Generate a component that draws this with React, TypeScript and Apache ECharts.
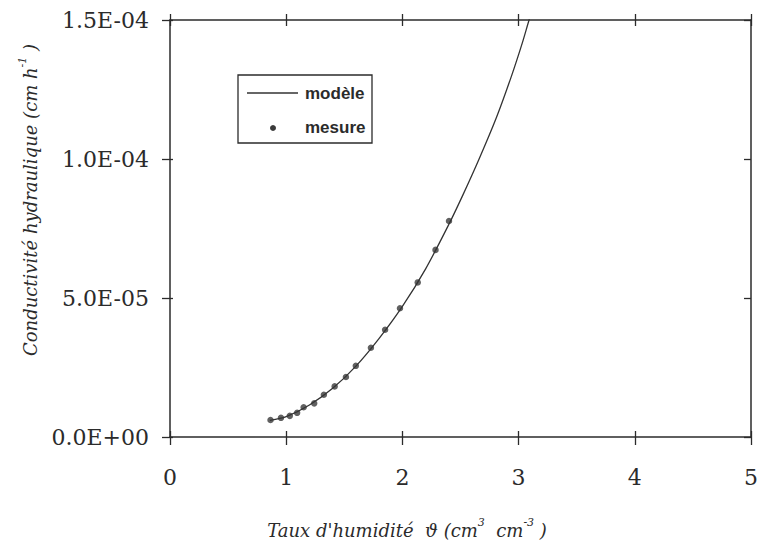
import React, { useEffect, useRef } from "react";
import * as echarts from "echarts";

// Measured points (x: cm3/cm3, y: cm/h)
const mesureX = [0.865, 0.955, 1.031, 1.094, 1.15, 1.241, 1.324, 1.417, 1.514, 1.599, 1.729, 1.851, 1.979, 2.132, 2.285, 2.401];
const mesureY = [6.1e-6, 6.9e-6, 7.6e-6, 8.7e-6, 10.7e-6, 12.1e-6, 15.2e-6, 18.2e-6, 21.6e-6, 25.6e-6, 32.1e-6, 38.6e-6, 46.3e-6, 55.6e-6, 67.3e-6, 77.7e-6];

// Model curve
const modeleX = [0.86, 1.0, 1.2, 1.4, 1.6, 1.8, 2.0, 2.2, 2.4, 2.52, 2.66, 2.81, 2.94, 3.03, 3.09, 3.12];
const modeleY = [6.0e-6, 7.3e-6, 11.5e-6, 17.5e-6, 25.5e-6, 35.5e-6, 47.0e-6, 60.5e-6, 76.5e-6, 87.0e-6, 100e-6, 115e-6, 130e-6, 141.5e-6, 150e-6, 154e-6];

const xTicks = [0, 1, 2, 3, 4, 5];
const yTicks = [0, 5e-5, 1e-4, 1.5e-4];

const seriesNames = ["modèle", "mesure"];

const INK = "#2b2b2b";
const SERIF = "DejaVu Serif";
const SANS = "Liberation Sans";

function fmtSci(v: number): string {
  const [m, e] = v.toExponential(1).split("e");
  const n = parseInt(e, 10);
  const sign = n < 0 ? "-" : "+";
  const d = String(Math.abs(n)).padStart(2, "0");
  return `${m}E${sign}${d}`;
}

export default function App() {
  const ref = useRef<HTMLDivElement>(null);
  useEffect(() => {
    if (!ref.current) return;
    const chart = echarts.init(ref.current, undefined, { renderer: "svg" });
    const axisLine = { show: true, onZero: false, lineStyle: { color: INK, width: 1.5 } };
    const tickStyle = { color: INK, width: 1.3 };
    const xBase = { type: "value" as const, min: xTicks[0], max: xTicks[xTicks.length - 1], interval: 1, splitLine: { show: false } };
    const yBase = { type: "value" as const, min: yTicks[0], max: yTicks[yTicks.length - 1], interval: 5e-5, splitLine: { show: false } };
    const rich = {
      b: { fontFamily: SERIF, fontStyle: "italic", fontSize: 18, lineHeight: 22, color: INK, verticalAlign: "bottom" },
      s: { fontFamily: SERIF, fontStyle: "italic", fontSize: 11, lineHeight: 12, color: INK, verticalAlign: "top" },
    };
    chart.setOption({
      animation: false,
      backgroundColor: "#ffffff",
      grid: { left: 170, right: 2, top: 20, bottom: 105, containLabel: false },
      xAxis: [
        {
          ...xBase,
          position: "bottom",
          axisLine,
          axisTick: { show: true, inside: false, length: 8, lineStyle: tickStyle },
          axisLabel: { show: true, margin: 29, color: INK, fontFamily: SERIF, fontSize: 22, formatter: (v: number) => String(v) },
        },
        {
          ...xBase,
          position: "bottom",
          axisLine: { show: false, onZero: false },
          axisTick: { show: true, inside: true, length: 6, lineStyle: tickStyle },
          axisLabel: { show: false },
        },
        {
          ...xBase,
          position: "top",
          axisLine,
          axisTick: { show: true, inside: false, length: 6, lineStyle: tickStyle },
          axisLabel: { show: false },
        },
        {
          ...xBase,
          position: "top",
          axisLine: { show: false, onZero: false },
          axisTick: { show: true, inside: true, length: 6, lineStyle: tickStyle },
          axisLabel: { show: false },
        },
      ],
      yAxis: [
        {
          ...yBase,
          position: "left",
          axisLine,
          axisTick: { show: true, inside: false, length: 8, lineStyle: tickStyle },
          axisLabel: { show: true, margin: 21, color: INK, fontFamily: SERIF, fontSize: 22, formatter: (v: number) => fmtSci(v) },
        },
        {
          ...yBase,
          position: "left",
          axisLine: { show: false, onZero: false },
          axisTick: { show: true, inside: true, length: 3, lineStyle: tickStyle },
          axisLabel: { show: false },
        },
        {
          ...yBase,
          position: "right",
          axisLine,
          axisTick: { show: true, inside: true, length: 7, lineStyle: tickStyle },
          axisLabel: { show: false },
        },
      ],
      series: [
        {
          name: seriesNames[0],
          type: "line",
          xAxisIndex: 0,
          yAxisIndex: 0,
          data: modeleX.map((x, i) => [x, modeleY[i]]),
          smooth: 0.3,
          showSymbol: false,
          symbol: "none",
          clip: true,
          lineStyle: { color: "#333333", width: 1.3 },
        },
        {
          name: seriesNames[1],
          type: "scatter",
          xAxisIndex: 0,
          yAxisIndex: 0,
          data: mesureX.map((x, i) => [x, mesureY[i]]),
          symbol: "circle",
          symbolSize: 6.5,
          itemStyle: { color: "#3a3a3a" },
        },
      ],
      graphic: [
        // legend
        { type: "rect", shape: { x: 238, y: 75, width: 134, height: 68 }, style: { fill: "#ffffff", stroke: INK, lineWidth: 1.3 }, z: 100 },
        { type: "line", shape: { x1: 247, y1: 93, x2: 298, y2: 93 }, style: { stroke: "#333333", lineWidth: 1.3 }, z: 101 },
        { type: "circle", shape: { cx: 273, cy: 128, r: 3 }, style: { fill: "#3a3a3a" }, z: 101 },
        { type: "text", x: 305, y: 93, style: { text: seriesNames[0], fill: INK, fontFamily: SANS, fontWeight: "bold", fontSize: 17, verticalAlign: "middle", align: "left" }, z: 101 },
        { type: "text", x: 305, y: 127, style: { text: seriesNames[1], fill: INK, fontFamily: SANS, fontWeight: "bold", fontSize: 17, verticalAlign: "middle", align: "left" }, z: 101 },
        // x axis title
        {
          type: "text",
          x: 407,
          y: 528,
          style: {
            text: "{b|Taux d'humidité  ϑ (cm}{s|3}{b|  cm}{s|-3}{b| )}",
            align: "center",
            verticalAlign: "middle",
            fill: INK,
            rich,
          },
        },
        // y axis title
        {
          type: "text",
          x: 28,
          y: 200,
          rotation: Math.PI / 2,
          style: {
            text: "{b|Conductivité hydraulique (cm h}{s|-1}{b| )}",
            align: "center",
            verticalAlign: "middle",
            fill: INK,
            rich,
          },
        },
      ],
    });
    return () => chart.dispose();
  }, []);
  return <div ref={ref} style={{ position: "fixed", left: 0, top: 0, width: 761, height: 542 }} />;
}
